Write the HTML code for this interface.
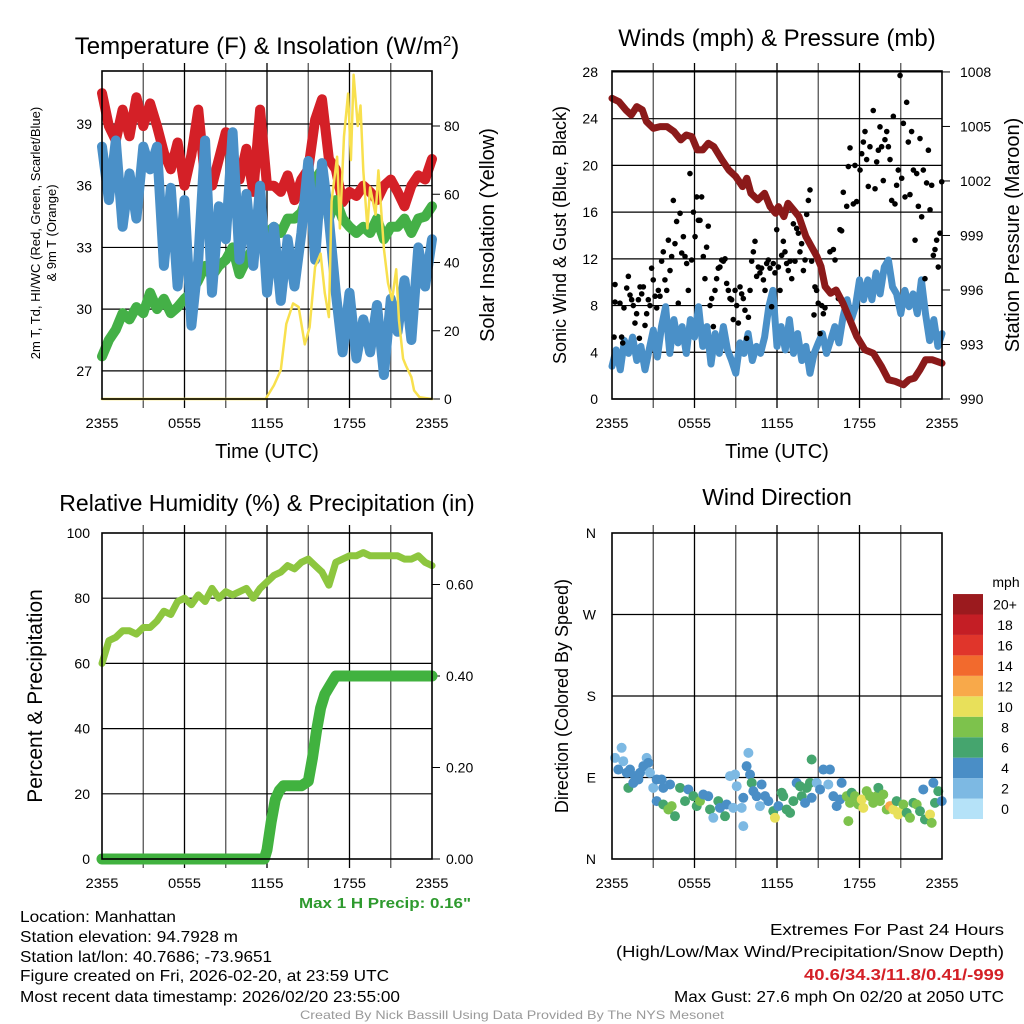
<!DOCTYPE html>
<html><head><meta charset="utf-8"><style>
html,body{margin:0;padding:0;background:#fff;}
svg{display:block;font-family:"Liberation Sans",sans-serif;}
</style></head><body>
<svg id="chart" width="1024" height="1024" viewBox="0 0 1024 1024" xmlns="http://www.w3.org/2000/svg"></svg>
<script>
// ---------- DATA ----------
const halfHours = [0,0.5,1,1.5,2,2.5,3,3.5,4,4.5,5,5.5,6,6.5,7,7.5,8,8.5,9,9.5,10,10.5,11,11.5,12,12.5,13,13.5,14,14.5,15,15.5,16,16.5,17,17.5,18,18.5,19,19.5,20,20.5,21,21.5,22,22.5,23,23.5,24];
const tempRed = [40.5,38.9,38.2,39.7,38.4,40.3,38.9,40.0,38.9,37.6,36.8,38.1,36.0,37.5,39.7,36.3,36.0,37.3,38.6,37.1,36.3,37.8,35.7,39.7,36.0,36.0,35.7,36.5,35.3,36.3,36.8,39.2,40.2,37.3,36.8,35.2,35.7,35.5,36.0,35.7,35.3,36.0,36.3,35.7,35.0,36.0,36.5,36.3,37.3];
const dewBlue = [37.9,35.3,38.2,34.0,36.6,34.4,37.9,36.8,37.9,32.1,35.9,31.1,35.3,29.2,32.4,38.2,30.8,35.0,33.4,38.6,32.4,35.6,32.1,36.0,30.8,34.0,30.4,33.4,31.1,33.7,37.2,32.4,37.1,34.4,30.8,27.9,30.8,27.6,29.5,27.9,30.2,26.8,30.5,28.9,31.4,28.5,33.0,31.1,33.4];
const greenT = [27.7,28.5,29.0,29.8,29.5,30.1,29.8,30.8,30.0,30.5,29.8,30.1,30.5,30.8,31.4,32.1,31.6,32.1,32.4,33.0,31.7,32.4,33.0,33.4,33.7,34.0,33.7,34.4,34.4,34.7,35.6,36.3,36.8,34.4,35.3,34.4,34.0,33.7,34.0,33.7,34.4,33.4,34.0,34.0,34.4,33.7,34.4,34.5,35.0];
const solarHours = [0,11.9,12.5,13.0,13.4,13.9,14.3,14.75,15.1,15.5,15.9,16.2,16.5,16.7,17.1,17.3,17.6,17.9,18.1,18.3,18.6,18.8,19.0,19.3,19.5,19.9,20.1,20.5,20.8,21.1,21.4,21.6,21.9,22.1,22.5,22.7,23.1,24];
const solarVals = [0,0,4,8.5,22,28,27,16,21,38.7,42.6,31,24,58,71,50,77,89.5,70,95,80,86,67,50,62,54,67,44,34,29,38,23,11.8,9.8,6.4,2.5,0.5,0];

const presHours = [0,0.5,1,1.4,1.8,2.2,2.5,3,3.5,4,4.5,5,5.4,5.8,6.2,6.6,7,7.4,8,8.5,9,9.5,9.8,10.1,10.6,11.1,11.5,11.9,12.1,12.5,12.8,13.2,13.6,14.1,14.5,14.9,15.2,15.5,15.9,16.3,16.8,17.3,17.8,18.4,19,19.6,20.1,20.6,21.2,21.6,22,22.4,22.8,23.3,24];
const presVals = [1006.55,1006.37,1005.91,1005.63,1006.09,1005.91,1005.27,1004.9,1004.99,1004.99,1004.72,1004.26,1004.53,1004.44,1003.71,1003.71,1004.07,1003.89,1003.16,1002.6,1002.24,1001.69,1002.15,1001.32,1000.96,1001.32,1000.59,1000.22,1000.59,1000.04,1000.77,1000.41,1000.04,998.94,998.39,997.84,997.29,996.19,995.82,996.0,995.27,994.36,993.44,992.7,992.52,991.79,991.06,990.97,990.78,991.06,991.15,991.61,992.16,992.16,991.97];
const windHours = [0,0.3,0.6,0.9,1.2,1.5,1.8,2.1,2.4,2.7,3,3.3,3.6,3.9,4.2,4.5,4.8,5.1,5.4,5.7,6,6.3,6.6,6.9,7.2,7.5,7.8,8.1,8.4,8.7,9,9.3,9.6,9.9,10.2,10.5,10.8,11.1,11.4,11.7,12,12.3,12.6,12.9,13.2,13.5,13.8,14.1,14.4,14.7,15,15.3,15.6,15.9,16.2,16.5,16.8,17.1,17.4,17.7,18,18.3,18.6,18.9,19.2,19.5,19.8,20.1,20.4,20.7,21,21.3,21.6,21.9,22.2,22.5,22.8,23.1,23.4,23.7,24];
const windVals = [2.8,4.2,2.5,5.0,3.9,5.3,3.3,4.5,2.5,4.2,5.9,3.6,6.2,7.9,3.9,6.8,4.8,6.2,3.9,6.8,5.3,7.9,4.5,6.2,3.0,5.6,3.9,6.2,4.2,3.3,2.2,4.8,3.9,5.6,3.3,4.5,3.9,5.3,7.9,9.3,4.5,6.2,4.2,6.8,3.9,5.6,3.3,4.5,2.2,3.9,4.8,5.6,3.9,5.0,6.2,4.8,7.0,8.5,6.8,7.9,10.2,8.5,10.2,8.5,10.8,9.0,11.3,11.9,9.6,9.0,7.3,9.3,7.9,9.0,7.3,10.2,7.3,5.0,6.8,4.5,5.6];
const gustHours = [0.15,0.22,0.22,0.58,0.70,0.78,0.87,1.07,1.19,1.31,1.43,1.55,1.67,1.79,1.92,1.99,2.04,2.16,2.28,2.4,2.52,2.64,2.76,2.88,3.0,3.13,3.25,3.37,3.49,3.61,3.73,3.85,3.98,4.1,4.22,4.34,4.46,4.58,4.7,4.82,4.95,5.07,5.19,5.31,5.43,5.55,5.67,5.79,5.92,6.04,6.16,6.28,6.4,6.52,6.64,6.76,6.88,7.0,7.13,7.25,7.37,7.49,7.61,7.73,7.85,7.98,8.1,8.22,8.34,8.46,8.58,8.7,8.82,8.95,9.07,9.19,9.31,9.43,9.55,9.67,9.79,9.92,10.04,10.16,10.28,10.4,10.52,10.64,10.76,10.88,11.01,11.13,11.25,11.37,11.49,11.61,11.73,11.85,11.98,12.1,12.22,12.34,12.46,12.58,12.7,12.82,12.95,13.07,13.19,13.31,13.43,13.55,13.67,13.79,13.92,14.04,14.16,14.28,14.4,14.52,14.69,14.76,14.88,15.0,15.13,15.25,15.37,15.49,15.85,16.1,16.22,16.46,16.58,16.7,16.82,17.07,17.19,17.31,17.55,17.67,17.79,18.04,18.16,18.28,18.4,18.52,18.64,18.76,19.0,19.13,19.25,19.37,19.49,19.61,19.73,19.85,19.98,20.1,20.22,20.34,20.46,20.58,20.7,20.82,20.95,21.07,21.19,21.31,21.43,21.55,21.67,21.79,21.92,22.04,22.16,22.28,22.4,22.52,22.64,22.76,22.88,23.01,23.13,23.25,23.37,23.49,23.61,23.73,23.85,23.98];
const gustVals = [5.3,9.8,8.3,8.2,5.3,4.8,7.8,9.5,10.5,8.9,8.5,8.0,6.5,7.3,8.5,5.2,9.6,9.0,9.6,6.3,7.3,8.5,8.0,11.2,10.2,8.8,7.8,9.3,8.8,11.8,12.6,10.2,9.3,13.6,11.0,12.2,17.0,13.3,15.2,8.2,15.9,12.5,13.9,12.2,11.6,9.3,19.3,11.9,16.0,13.9,17.3,15.3,15.3,17.3,12.2,10.3,13.0,14.8,8.0,8.6,6.2,9.3,10.3,11.2,11.3,11.9,11.8,12.0,9.9,9.3,8.6,8.5,6.8,9.3,8.0,6.5,9.6,9.0,8.6,7.6,5.2,7.0,9.3,11.8,12.6,13.5,10.5,11.3,10.8,11.2,10.2,9.3,11.6,11.9,11.2,7.9,11.6,10.8,14.5,11.3,9.3,12.3,13.5,12.6,11.6,11.0,11.8,10.3,15.0,11.8,14.6,14.2,12.6,13.3,11.0,11.9,15.8,17.0,17.9,11.8,7.2,9.6,9.3,8.2,5.6,8.0,7.3,7.8,12.6,12.8,11.9,8.6,14.5,14.4,17.7,16.5,19.9,21.5,16.7,20.0,16.9,19.6,21.0,22.0,22.9,20.5,18.2,21.6,24.7,18.0,20.3,21.3,23.3,21.6,18.7,22.2,22.9,21.6,20.5,17.0,24.2,16.7,18.3,19.6,27.7,18.9,23.6,17.3,25.4,22.0,17.5,22.9,19.6,13.6,19.3,16.5,22.3,15.6,19.6,10.3,18.5,21.3,16.2,18.3,12.3,12.8,13.6,11.3,14.2,18.6];

const rhVals = [60,67,68,70,70,69,71,71,73,76,75,79,80,78,81,79,83,80,82,81,82,83,80,83,85,87,88,90,89,91,92,90,88,84,91,92,93,93,94,93,93,93,93,93,92,92,93,91,90];
const precipHours = [0,11.8,12.0,12.3,12.6,12.9,13.2,14.5,15.0,15.3,15.6,15.9,16.2,16.6,17.0,24];
const precipVals = [0,0,0.02,0.08,0.13,0.15,0.16,0.16,0.17,0.22,0.28,0.33,0.36,0.38,0.40,0.40];

const dirHours = [0.22,0.70,0.82,0.46,1.07,1.31,1.67,2.04,2.28,2.52,2.64,2.76,1.19,1.55,1.92,3.0,3.25,3.61,3.73,3.25,3.73,4.1,4.34,4.58,4.22,4.95,5.31,5.55,5.92,6.16,6.4,6.64,7.0,7.13,7.37,7.73,7.85,8.22,8.34,8.58,8.95,9.07,8.82,9.43,9.55,9.55,9.79,9.92,10.04,10.16,10.28,10.52,10.76,10.88,11.13,11.37,11.73,11.85,12.1,12.34,12.46,12.7,12.95,13.19,13.43,13.67,13.8,14.04,14.16,14.4,14.52,14.52,14.89,15.13,15.37,15.73,15.85,16.1,16.34,16.58,16.7,17.07,17.31,17.43,17.67,17.92,18.16,18.28,18.52,18.76,19.0,19.25,19.37,19.49,19.73,19.98,20.22,20.46,20.7,20.82,21.07,21.19,21.43,21.67,21.92,22.16,22.4,22.64,22.76,23.13,23.25,23.37,23.49,23.73,23.98,17.19];
const dirDeg = [111.7,122.8,108,98.8,95.2,98.8,91.5,95.2,102.5,111.7,106.2,95.2,78.6,84.1,87.8,78.6,87.8,87.8,78.6,63.9,60.2,54.7,58.4,47.3,82.3,78.6,63.9,76.8,69.4,58.4,63.9,71.2,69.4,54.7,45.5,63.9,56.5,47.3,60.2,91.5,93.3,80.4,56.5,56.5,67.6,36.3,102.5,117.2,93.3,84.1,74.9,69.4,58.4,82.3,69.4,63.9,52.8,45.5,58.4,73.1,69.4,54.7,51,63.9,84.1,80.4,69.4,62,78.6,84.1,109.9,67.6,84.1,76.8,98.8,82.3,98.8,69.4,58.4,65.7,84.1,69.4,62,73.1,69.4,60.2,65.7,56.5,74.9,69.4,62,69.4,78.6,63.9,71.2,54.7,58.4,54.7,63.9,49.2,52.8,60.2,51,45.5,62,60.2,52.8,76.8,43.6,49.2,39.9,84.1,62,74.9,63.9,41.8];
const dirSpeed = [3,3,3,5,5,5,5,5,5,3,5,3,7,5,5,3,5,5,5,5,7,9,9,7,5,7,7,5,7,7,9,5,5,7,3,7,5,7,5,3,3,3,3,3,5,3,5,3,5,7,5,5,3,5,5,5,7,11,5,7,7,7,7,7,5,7,7,5,7,7,7,5,3,5,5,3,5,5,5,5,5,9,9,7,9,9,11,11,9,9,9,9,7,9,9,9,13,11,7,11,11,9,7,9,7,9,7,5,7,11,9,5,7,7,5,9];
const speedLabels = ["0","2","4","6","8","10","12","14","16","18","20+"];
const speedColors = ["#b5e2f8","#7db9e3","#4a8ec6","#45a56e","#7dc24c","#e8e05a","#f8a94a","#f26a2d","#e0352b","#c41e25","#9b1a1e"];
const timeTicks = ["2355","0555","1155","1755","2355"];
const tempTicks = [27,30,33,36,39];
const solarTicks = [0,20,40,60,80];
const windTicks = [0,4,8,12,16,20,24,28];
const presTicks = [990,993,996,999,1002,1005,1008];
const rhTicks = [0,20,40,60,80,100];
const precipTicks = [0,0.2,0.4,0.6];
const dirTicks = ["N","E","S","W","N"];

// ---------- HELPERS ----------
const svg = document.getElementById('chart');
const NS = 'http://www.w3.org/2000/svg';
function mk(tag, attrs, name, parent){
  const el = document.createElementNS(NS, tag);
  for (const k in attrs) el.setAttribute(k, attrs[k]);
  
  
  (parent||svg).appendChild(el);
  return el;
}
function txt(x,y,s,size,name,opts){
  opts = opts||{};
  const t = mk('text',{x:x,y:y,'font-size':size,fill:opts.fill||'#000','text-anchor':opts.anchor||'middle','font-weight':opts.weight||'normal'},name);
  if (opts.rot) t.setAttribute('transform','rotate(-90 '+x+' '+y+')');
  if (opts.len) { t.setAttribute('textLength', opts.len); t.setAttribute('lengthAdjust','spacingAndGlyphs'); }
  t.textContent = s;
  return t;
}
function poly(xs, ys, sx, sy, color, w, name){
  let d = '';
  for (let i=0;i<xs.length;i++) d += (i?'L':'M') + sx(xs[i]).toFixed(1) + ' ' + sy(ys[i]).toFixed(1);
  return mk('path',{d:d,fill:'none',stroke:color,'stroke-width':w,'stroke-linejoin':'round','stroke-linecap':'round'},name);
}
function frame(x0,y0,x1,y1){
  for (let h=3; h<24; h+=3){
    const x = x0 + (x1-x0)*h/24;
    mk('line',{x1:x,y1:y0-8,x2:x,y2:y1+9,stroke:(h%6==0)?'#000':'#555','stroke-width':1.3},'vertical-gridline');
  }
  for (let i=0;i<timeTicks.length;i++){
    txt(x0+(x1-x0)*i/4, y1+29, timeTicks[i], 14, 'x-tick-label', {len:33});
  }
}
function border(x0,y0,x1,y1,name){
  mk('rect',{x:x0,y:y0,width:x1-x0,height:y1-y0,fill:'none',stroke:'#000','stroke-width':1.6},name);
}

// ---------- PANEL 1: Temperature ----------
(function(){
  const x0=102,x1=432,y0=71,y1=399;
  const sx = h => x0 + (x1-x0)*h/24;
  const sT = t => 124 + (39-t)*20.57;
  const sW = w => 399 - w*3.4125;
  frame(x0,y0,x1,y1);
  tempTicks.forEach(t=>{
    mk('line',{x1:x0,y1:sT(t),x2:x1,y2:sT(t),stroke:'#000','stroke-width':1.2},'temp-gridline');
    txt(x0-10,sT(t)+5,String(t),14,'temp-tick-label',{anchor:'end'});
  });
  solarTicks.forEach(w=>{
    mk('line',{x1:x1,y1:sW(w),x2:x1+8,y2:sW(w),stroke:'#000','stroke-width':1},'solar-tick');
    txt(x1+12,sW(w)+5,String(w),14,'solar-tick-label',{anchor:'start'});
  });
  poly(halfHours,tempRed,sx,sT,'#d42027',10,'temperature-line-red');
  poly(halfHours,greenT,sx,sT,'#44b047',10,'dewpoint-line-green');
  poly(halfHours,dewBlue,sx,sT,'#4a90c8',10,'hi-wc-line-blue');
  poly(solarHours,solarVals,sx,sW,'#f8e04e',2.5,'solar-insolation-line');
  border(x0,y0,x1,y1,'temperature-plot-frame');
  const t = txt(267,54,'Temperature (F) & Insolation (W/m',24,'temperature-title');
  const sup = document.createElementNS(NS,'tspan'); sup.setAttribute('baseline-shift','super'); sup.setAttribute('font-size','15'); sup.textContent='2';
  
  
  t.appendChild(sup); t.appendChild(document.createTextNode(')'));
  txt(267,458,'Time (UTC)',20,'temperature-x-axis-title');
  txt(40,233,'2m T, Td, HI/WC (Red, Green, Scarlet/Blue)',13,'temperature-y-axis-title-1',{rot:true});
  txt(56,233,'& 9m T (Orange)',13,'temperature-y-axis-title-2',{rot:true});
  txt(494,235,'Solar Insolation (Yellow)',20,'solar-y-axis-title',{rot:true});
})();

// ---------- PANEL 2: Winds ----------
(function(){
  const x0=612,x1=942,y0=71,y1=399;
  const sx = h => x0 + (x1-x0)*h/24;
  const sV = v => 399 - v*11.68;
  const sP = p => 399 - (p-990)*18.17;
  frame(x0,y0,x1,y1);
  windTicks.forEach(v=>{
    mk('line',{x1:x0,y1:sV(v),x2:x1,y2:sV(v),stroke:'#000','stroke-width':1.2},'wind-gridline');
    txt(x0-14,sV(v)+5,String(v),14,'wind-tick-label',{anchor:'end'});
  });
  presTicks.forEach(p=>{
    mk('line',{x1:x1,y1:sP(p),x2:x1+8,y2:sP(p),stroke:'#000','stroke-width':1},'pressure-tick');
    txt(x1+18,sP(p)+5,String(p),14,'pressure-tick-label',{anchor:'start'});
  });
  poly(windHours,windVals,sx,sV,'#4a90c8',7,'sonic-wind-line');
  for (let i=0;i<gustHours.length;i++){
    mk('circle',{cx:sx(gustHours[i]),cy:sV(gustVals[i]),r:2.8,fill:'#000'},'gust-point');
  }
  poly(presHours,presVals,sx,sP,'#8b1a1a',7,'pressure-line');
  border(x0,y0,x1,y1,'winds-plot-frame');
  txt(777,46,'Winds (mph) & Pressure (mb)',24,'winds-title');
  txt(777,458,'Time (UTC)',20,'winds-x-axis-title');
  txt(566,235,'Sonic Wind & Gust (Blue, Black)',18,'wind-y-axis-title',{rot:true});
  txt(1019,235,'Station Pressure (Maroon)',20,'pressure-y-axis-title',{rot:true});
})();

// ---------- PANEL 3: RH & Precip ----------
(function(){
  const x0=102,x1=432,y0=533,y1=859;
  const sx = h => x0 + (x1-x0)*h/24;
  const sR = r => 859 - r*3.26;
  const sPr = p => 859 - p*457.5;
  frame(x0,y0,x1,y1);
  rhTicks.forEach(r=>{
    if (r>0 && r<100) mk('line',{x1:x0,y1:sR(r),x2:x1,y2:sR(r),stroke:'#000','stroke-width':1.2},'rh-gridline');
    txt(x0-12,sR(r)+5,String(r),14,'rh-tick-label',{anchor:'end'});
  });
  precipTicks.forEach(p=>{
    mk('line',{x1:x1,y1:sPr(p),x2:x1+8,y2:sPr(p),stroke:'#000','stroke-width':1},'precip-tick');
    txt(x1+14,sPr(p)+5,p.toFixed(2),14,'precip-tick-label',{anchor:'start'});
  });
  poly(halfHours,rhVals,sx,sR,'#8dc63f',7,'relative-humidity-line');
  poly(precipHours,precipVals,sx,sPr,'#41b23f',11,'precipitation-line');
  border(x0,y0,x1,y1,'rh-plot-frame');
  txt(267,511,'Relative Humidity (%) & Precipitation (in)',23,'rh-title');
  txt(42,696,'Percent & Precipitation',21,'rh-y-axis-title',{rot:true});
  txt(471,908,'Max 1 H Precip: 0.16"',15,'max-precip-note',{anchor:'end',fill:'#2e9a2e',weight:'bold',len:172});
})();

// ---------- PANEL 4: Wind Direction ----------
(function(){
  const x0=612,x1=942,y0=533,y1=859;
  const sx = h => x0 + (x1-x0)*h/24;
  const sD = d => 859 - d*(326/360);
  frame(x0,y0,x1,y1);
  dirTicks.forEach((lab,i)=>{
    const y = sD(i*90);
    if (i>0 && i<4) mk('line',{x1:x0,y1:y,x2:x1,y2:y,stroke:'#000','stroke-width':1.2},'direction-gridline');
    txt(x0-16,y+5,lab,14,'direction-tick-label',{anchor:'end'});
  });
  for (let i=0;i<dirHours.length;i++){
    const bin = Math.min(10, Math.floor(dirSpeed[i]/2));
    mk('circle',{cx:sx(dirHours[i]),cy:sD(dirDeg[i]),r:5,fill:speedColors[bin]},'direction-point');
  }
  border(x0,y0,x1,y1,'direction-plot-frame');
  txt(777,505,'Wind Direction',23,'direction-title');
  txt(568,696,'Direction (Colored By Speed)',18,'direction-y-axis-title',{rot:true});
  txt(1006,587,'mph',14,'colorbar-unit-label');
  for (let i=0;i<speedColors.length;i++){
    const y = 819 - (i+1)*20.45;
    mk('rect',{x:953,y:y,width:30,height:20.45,fill:speedColors[i]},'colorbar-box');
    txt(1005,y+15.5,speedLabels[i],14,'colorbar-label');
  }
})();

// ---------- TEXT BLOCKS ----------
txt(20,922,'Location: Manhattan',16,'location-text',{anchor:'start',len:156});
txt(20,942,'Station elevation: 94.7928 m',16,'elevation-text',{anchor:'start',len:218});
txt(20,962,'Station lat/lon: 40.7686; -73.9651',16,'latlon-text',{anchor:'start',len:252});
txt(20,981,'Figure created on Fri, 2026-02-20, at 23:59 UTC',16,'created-text',{anchor:'start',len:369});
txt(20,1002,'Most recent data timestamp: 2026/02/20 23:55:00',16,'timestamp-text',{anchor:'start',len:380});
txt(1004,935,'Extremes For Past 24 Hours',16,'extremes-title',{anchor:'end',len:234});
txt(1004,957,'(High/Low/Max Wind/Precipitation/Snow Depth)',16,'extremes-subtitle',{anchor:'end',len:388});
txt(1004,980,'40.6/34.3/11.8/0.41/-999',16,'extremes-values',{anchor:'end',fill:'#d42027',weight:'bold',len:200});
txt(1004,1002,'Max Gust: 27.6 mph On 02/20 at 2050 UTC',16,'max-gust-text',{anchor:'end',len:330});
txt(512,1019,'Created By Nick Bassill Using Data Provided By The NYS Mesonet',12,'credit-footer',{fill:'#999',len:424});
</script>
</body></html>
